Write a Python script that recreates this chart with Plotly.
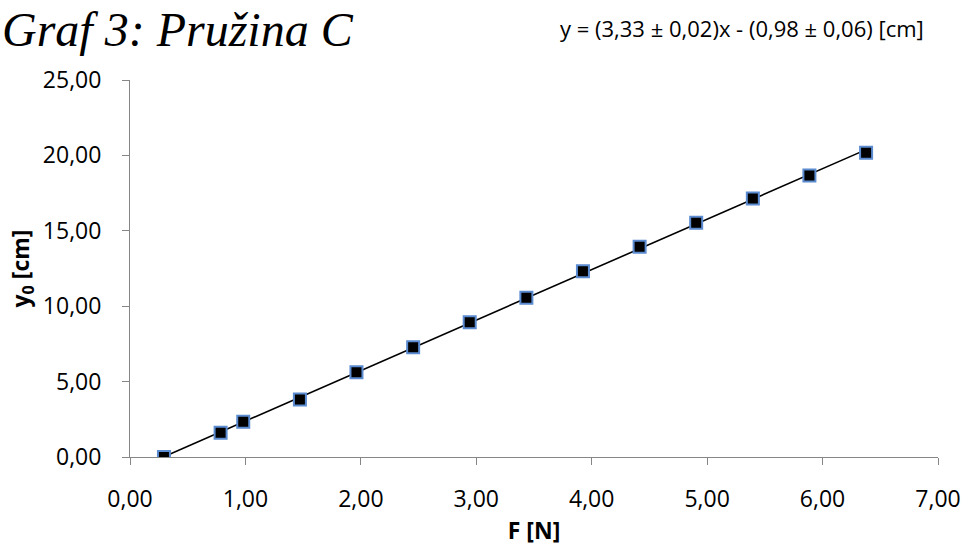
import numpy as np
import plotly.graph_objects as go

# Data
force_N = [0.294, 0.785, 0.981, 1.472, 1.962, 2.453, 2.943, 3.434, 3.924, 4.415, 4.905, 5.396, 5.886, 6.377]
y0_cm = [0.00, 1.60, 2.33, 3.81, 5.62, 7.27, 8.93, 10.56, 12.31, 13.95, 15.53, 17.14, 18.67, 20.17]

title_text = "Graf 3: Pružina C"
equation_text = "y = (3,33 ± 0,02)x - (0,98 ± 0,06) [cm]"
x_title = "F [N]"
y_title = "y<sub>0</sub> [cm]"

# Linear trendline fitted from the data
slope, intercept = np.polyfit(force_N, y0_cm, 1)
fit_x = [min(force_N), max(force_N)]
fit_y = [slope * v + intercept for v in fit_x]

fig = go.Figure()
fig.add_trace(go.Scatter(
    x=fit_x, y=fit_y, mode="lines",
    line=dict(color="black", width=1.6),
    hoverinfo="skip", showlegend=False,
))
fig.add_trace(go.Scatter(
    x=force_N, y=y0_cm, mode="markers",
    marker=dict(symbol="square", size=12, color="black",
                line=dict(color="#5b8bd0", width=2)),
    showlegend=False,
))

L, R, T, B = 130, 28, 80, 90
W, H = 966, 547
PW, PH = W - L - R, H - T - B

axis_font = dict(family="Open Sans, Noto Sans, sans-serif", size=23, color="black")
title_font = dict(family="Open Sans, sans-serif", size=23, color="black", weight="bold")
fig.update_layout(
    width=W, height=H,
    margin=dict(l=L, r=R, t=T, b=B),
    paper_bgcolor="white", plot_bgcolor="white",
    separators=", ",
    font=axis_font,
    xaxis=dict(
        range=[0, 7], dtick=1, tickformat=".2f",
        showgrid=False, zeroline=False, automargin=False,
        showline=True, linecolor="#868686", linewidth=1,
        ticks="outside", ticklen=7, tickcolor="#868686",
        tickfont=axis_font, ticklabelstandoff=14,
        title=dict(text=x_title, font=title_font, standoff=10),
    ),
    yaxis=dict(
        range=[0, 25], dtick=5, tickformat=".2f",
        showgrid=False, zeroline=False, automargin=False,
        showline=True, linecolor="#868686", linewidth=1,
        ticks="outside", ticklen=7, tickcolor="#868686",
        tickfont=axis_font, ticklabelstandoff=16,
        title=dict(text=y_title, font=title_font, standoff=6),
    ),
    annotations=[
        dict(text="<i>" + title_text + "</i>", xref="paper", yref="paper",
             x=-L / PW, y=1 + T / PH, xanchor="left", yanchor="top",
             xshift=0, yshift=-1, showarrow=False,
             font=dict(family="Liberation Serif, serif", size=48, color="black")),
        dict(text=equation_text, xref="paper", yref="paper",
             x=(926 - L) / PW, y=1 + (T - 28) / PH, xanchor="right", yanchor="middle",
             showarrow=False,
             font=dict(family="Open Sans, sans-serif", size=22, color="black")),
    ],
)

fig.write_html("out.html")
